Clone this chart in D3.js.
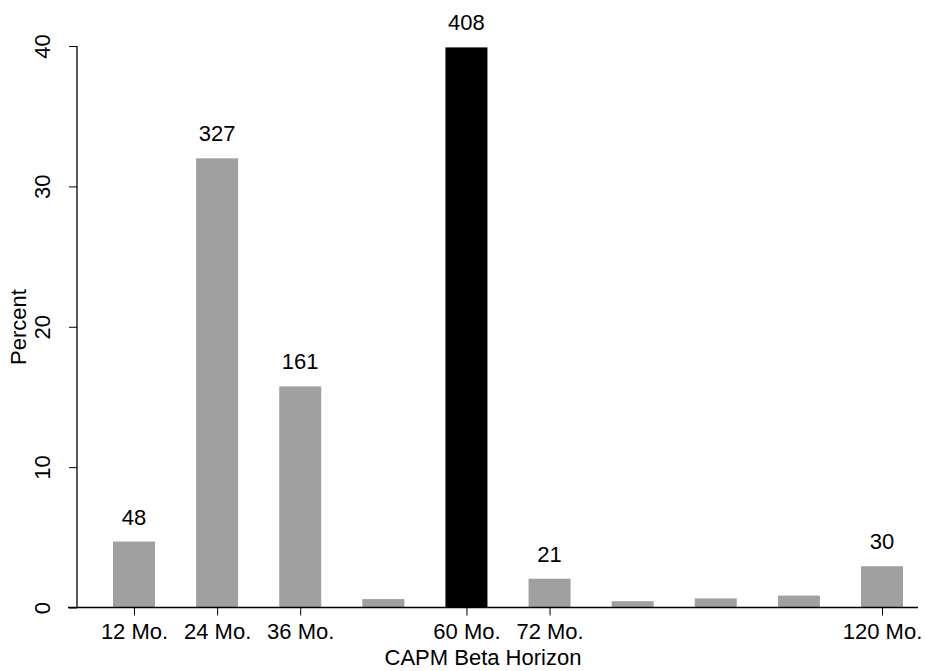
<!DOCTYPE html>
<html><head><meta charset="utf-8">
<script src="https://cdn.jsdelivr.net/npm/d3@7"></script>
<style>body{margin:0;background:#fff}text{font-family:"Liberation Sans",Arial,sans-serif;fill:#000}</style>
</head><body>
<svg id="c" width="925" height="671"></svg>
<script>
// CAPM beta horizon distribution
const horizons = [12, 24, 36, 48, 60, 72, 84, 96, 108, 120];
const percents = [4.7, 32.0, 15.75, 0.6, 39.9, 2.05, 0.45, 0.65, 0.85, 2.94];
const counts = [48, 327, 161, null, 408, 21, null, null, null, 30];
const tickHorizons = [12, 24, 36, 60, 72, 120];
const yTicks = [0, 10, 20, 30, 40];

const FS = 22;
const svg = d3.select('#c');
const x = d3.scaleLinear().domain([12, 120]).range([134, 882]);
const y = d3.scaleLinear().domain([0, 40]).range([607.5, 46]);
const bw = 42;

svg.selectAll('rect').data(horizons).enter().append('rect')
  .attr('x', d => x(d) - bw / 2).attr('width', bw)
  .attr('y', (d, i) => y(percents[i]))
  .attr('height', (d, i) => y(0) - y(percents[i]))
  .attr('fill', d => d === 60 ? '#000' : '#a0a0a0');

svg.selectAll('.lbl').data(horizons.filter((d, i) => counts[i] != null)).enter().append('text')
  .attr('x', d => x(d)).attr('y', d => y(percents[horizons.indexOf(d)]) - 17)
  .attr('text-anchor', 'middle').attr('font-size', FS)
  .text(d => counts[horizons.indexOf(d)]);

const xa = svg.append('g').attr('transform', 'translate(0,607.5)')
  .call(d3.axisBottom(x).tickValues(tickHorizons).tickSize(8).tickPadding(8).tickFormat(d => d + ' Mo.'));
xa.attr('font-size', FS).attr('font-family', null);
xa.select('.domain').attr('d', 'M68,0H918').attr('stroke-width', 1.3);

const ya = svg.append('g').attr('transform', 'translate(77,0)')
  .call(d3.axisLeft(y).tickValues(yTicks).tickSize(8));
ya.attr('font-size', FS).attr('font-family', null);
ya.select('.domain').attr('d', 'M0,46V607.5').attr('stroke-width', 1.3);
ya.selectAll('.tick text')
  .attr('transform', 'translate(-27,0) rotate(-90)')
  .attr('x', 0).attr('y', 0).attr('dy', 0).attr('text-anchor', 'middle');

svg.append('text').attr('x', 483).attr('y', 665).attr('text-anchor', 'middle').attr('font-size', FS).text('CAPM Beta Horizon');
svg.append('text').attr('transform', 'translate(26,327) rotate(-90)').attr('text-anchor', 'middle').attr('font-size', FS).text('Percent');
</script>
</body></html>
